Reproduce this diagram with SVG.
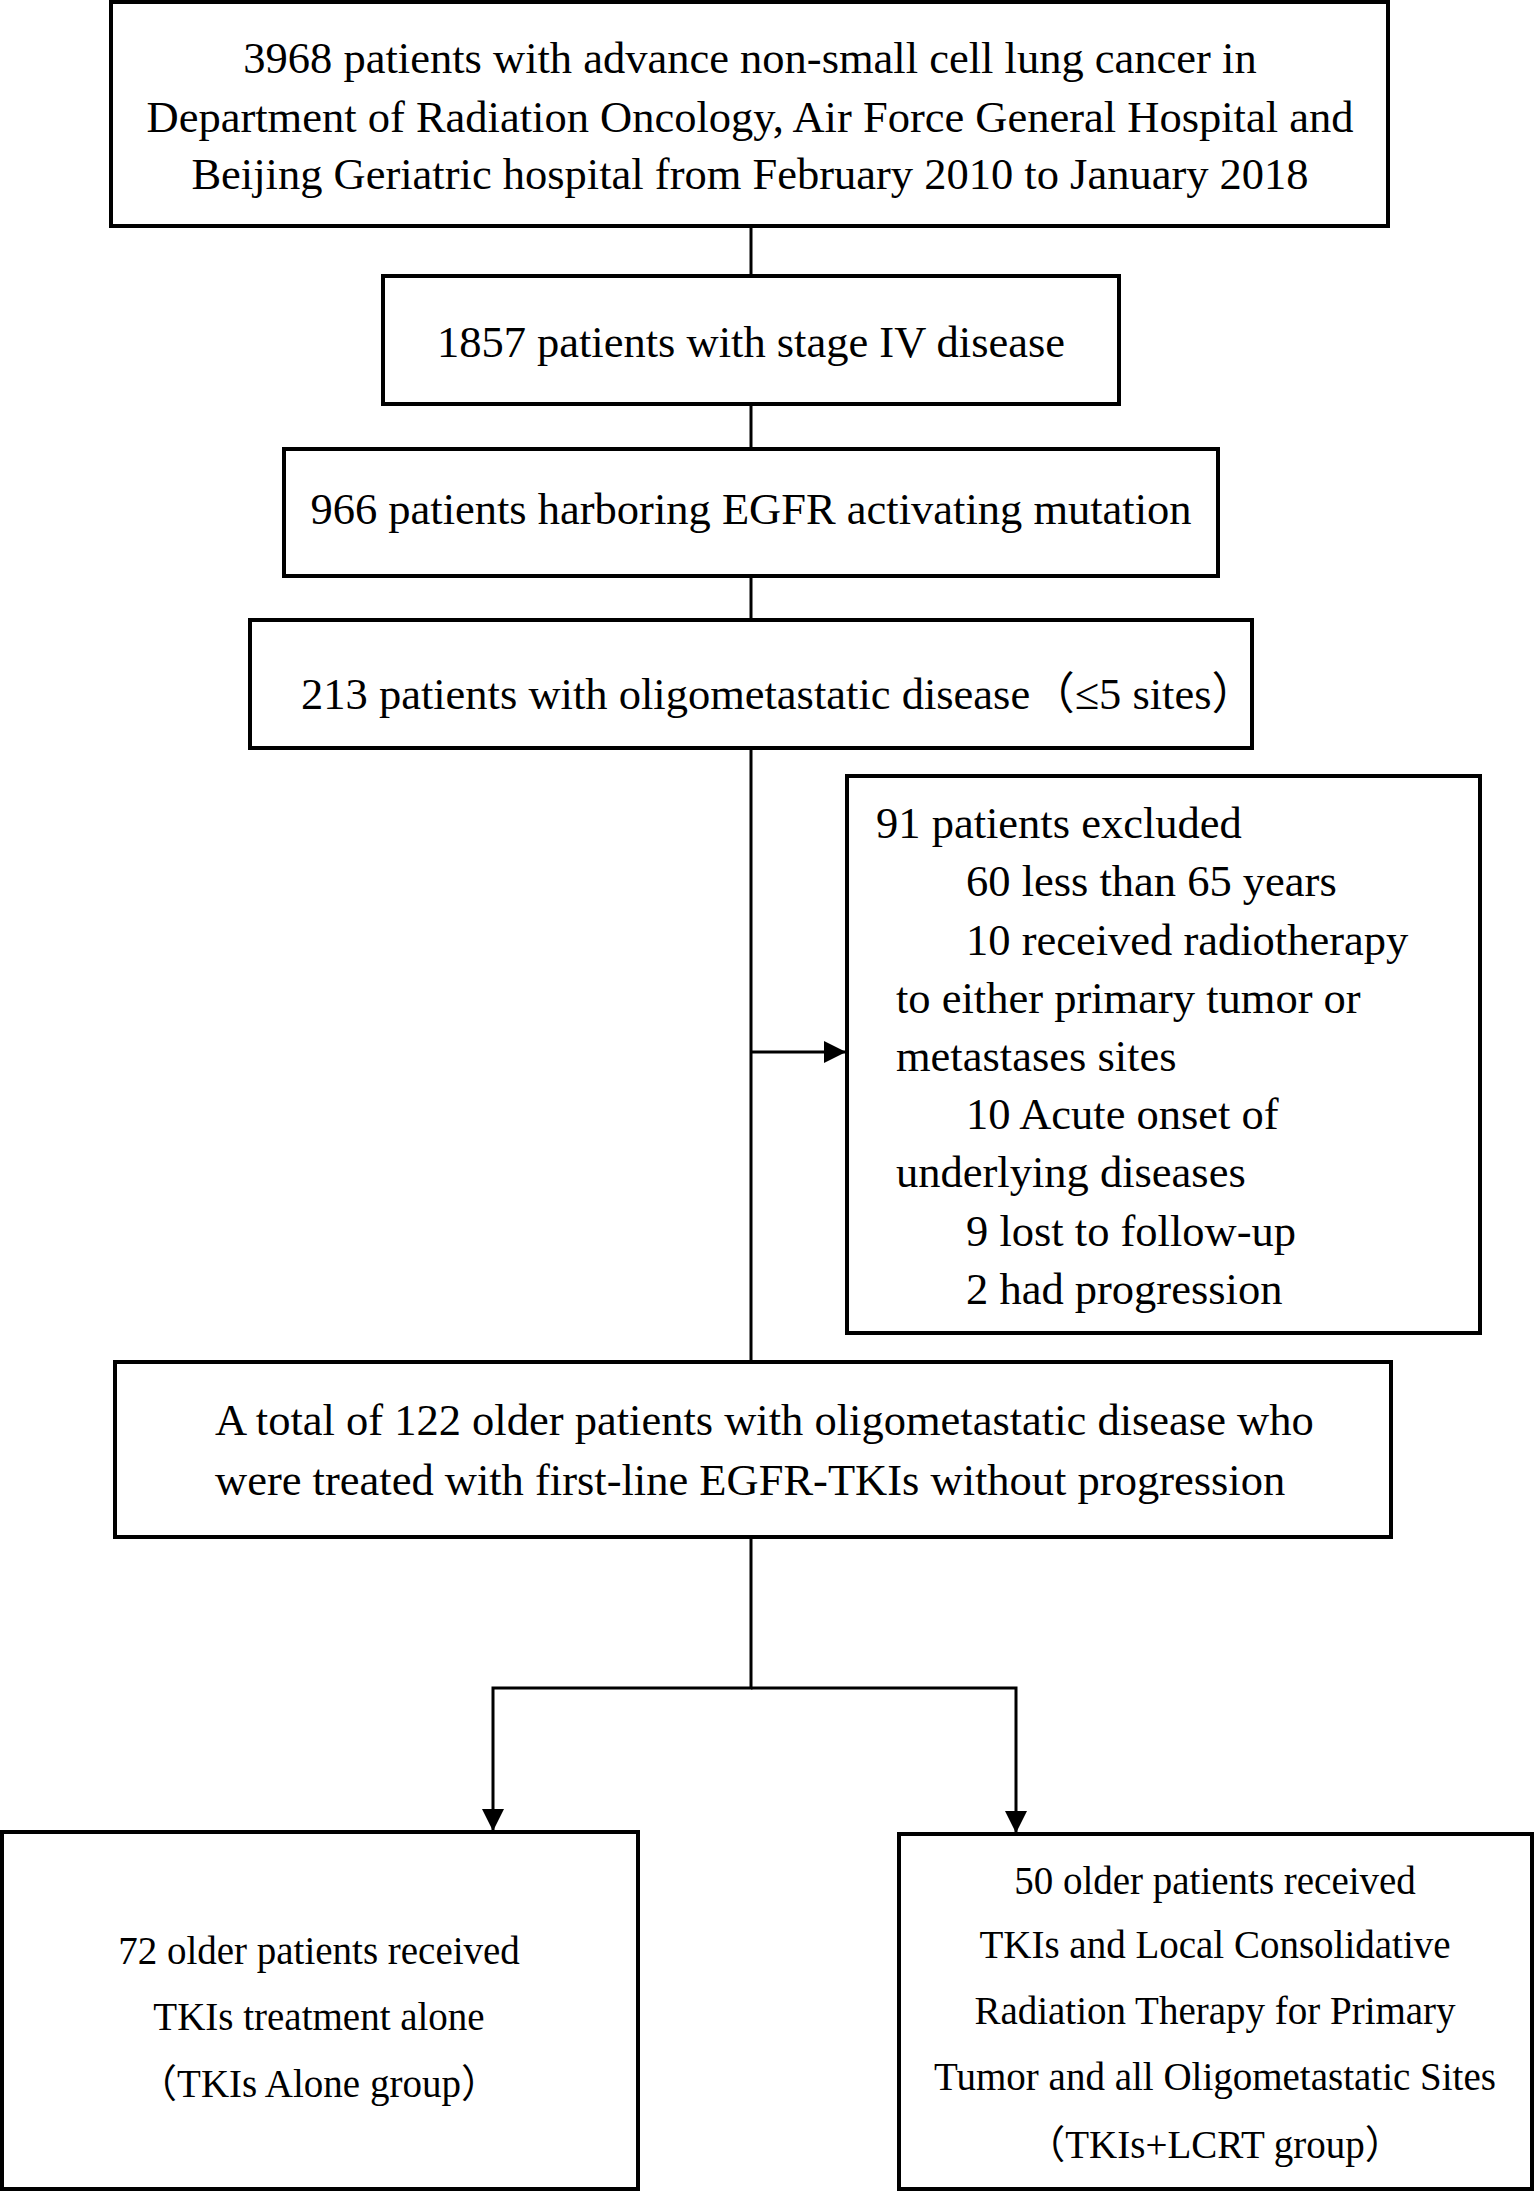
<svg xmlns="http://www.w3.org/2000/svg" width="1535" height="2192" viewBox="0 0 1535 2192">
<style>
.box{fill:#fff;stroke:#000;stroke-width:4}
.con{fill:none;stroke:#000;stroke-width:3}
text{font-family:"Liberation Serif","Times New Roman","Noto Sans CJK SC",serif;font-size:44.5px;fill:#000}
.c{text-anchor:middle}
.s{font-size:39px}
</style>
<defs>
<marker id="arr" markerUnits="userSpaceOnUse" markerWidth="22" markerHeight="22" refX="22" refY="11" orient="auto" viewBox="0 0 22 22">
<path d="M0,0 L22,11 L0,22 z" fill="#000"/>
</marker>
</defs>
<rect width="1535" height="2192" fill="#fff"/>
<g id="connectors">
<line class="con" x1="751" y1="226" x2="751" y2="276"/>
<line class="con" x1="751" y1="404" x2="751" y2="449"/>
<line class="con" x1="751" y1="576" x2="751" y2="620"/>
<line class="con" x1="751" y1="748" x2="751" y2="1362"/>
<line class="con" x1="751" y1="1052" x2="846" y2="1052" marker-end="url(#arr)"/>
<polyline class="con" points="751,1537 751,1688 493,1688 493,1831" marker-end="url(#arr)"/>
<polyline class="con" points="751,1688 1016,1688 1016,1833" marker-end="url(#arr)"/>
</g>
<g id="n1">
<rect class="box" x="111" y="2" width="1277" height="224"/>
<text class="c" x="750" y="73">3968 patients with advance non-small cell lung cancer in</text>
<text class="c" x="750" y="132">Department of Radiation Oncology, Air Force General Hospital and</text>
<text class="c" x="750" y="189">Beijing Geriatric hospital from February 2010 to January 2018</text>
</g>
<g id="n2">
<rect class="box" x="383" y="276" width="736" height="128"/>
<text class="c" x="751" y="357">1857 patients with stage IV disease</text>
</g>
<g id="n3">
<rect class="box" x="284" y="449" width="934" height="127"/>
<text class="c" x="751" y="524">966 patients harboring EGFR activating mutation</text>
</g>
<g id="n4">
<rect class="box" x="250" y="620" width="1002" height="128"/>
<text x="301" y="709">213 patients with oligometastatic disease（≤5 sites）</text>
</g>
<g id="n5">
<rect class="box" x="847" y="776" width="633" height="557"/>
<text x="876" y="838">91 patients excluded</text>
<text x="966" y="896">60 less than 65 years</text>
<text x="966" y="955">10 received radiotherapy</text>
<text x="896" y="1013">to either primary tumor or</text>
<text x="896" y="1071">metastases sites</text>
<text x="966" y="1129">10 Acute onset of</text>
<text x="896" y="1187">underlying diseases</text>
<text x="966" y="1246">9 lost to follow-up</text>
<text x="966" y="1304">2 had progression</text>
</g>
<g id="n6">
<rect class="box" x="115" y="1362" width="1276" height="175"/>
<text x="215" y="1435">A total of 122 older patients with oligometastatic disease who</text>
<text x="215" y="1495">were treated with first-line EGFR-TKIs without progression</text>
</g>
<g id="n7">
<rect class="box" x="2" y="1832" width="636" height="357"/>
<text class="c s" x="319" y="1964">72 older patients received</text>
<text class="c s" x="319" y="2030">TKIs treatment alone</text>
<text class="c s" x="319" y="2097">（TKIs Alone group）</text>
</g>
<g id="n8">
<rect class="box" x="899" y="1834" width="633" height="355"/>
<text class="c s" x="1215" y="1894">50 older patients received</text>
<text class="c s" x="1215" y="1958">TKIs and Local Consolidative</text>
<text class="c s" x="1215" y="2024">Radiation Therapy for Primary</text>
<text class="c s" x="1215" y="2090">Tumor and all Oligometastatic Sites</text>
<text class="c s" x="1215" y="2158">（TKIs+LCRT group）</text>
</g>
</svg>
